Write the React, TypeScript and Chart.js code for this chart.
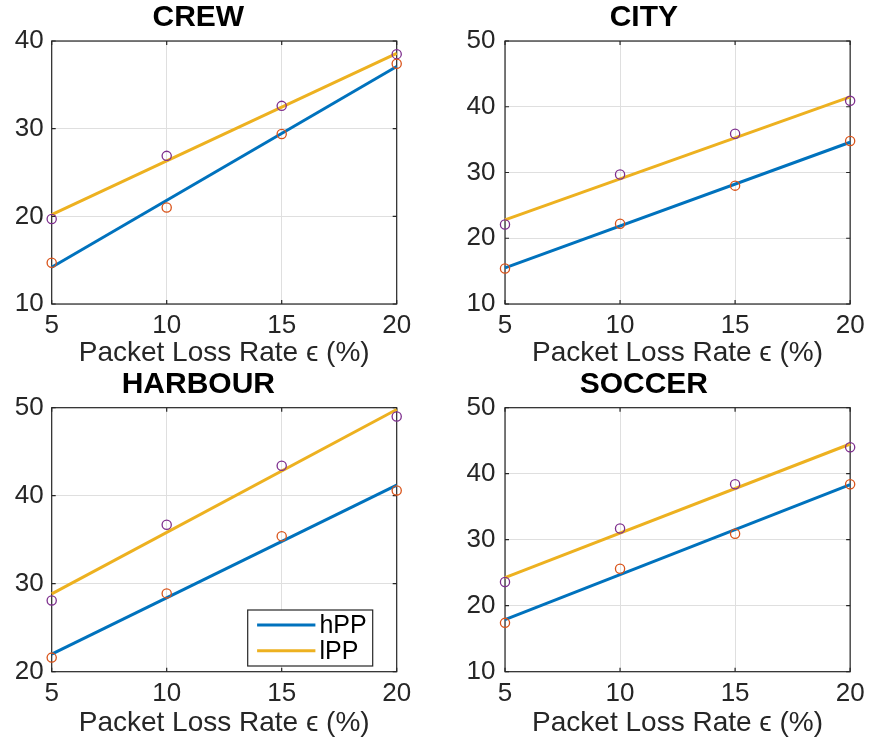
import { useEffect, useRef } from 'react';
import { Chart, registerables } from 'chart.js';

Chart.register(...registerables);

// Packet loss rates (%) at which each sequence was measured
const lossRates = [5, 10, 15, 20];
// x extent of the fitted trend lines
const fitRange = [5, 20];
const xTickStep = 5;
const yTickStep = 10;
const seriesNames = ['hPP', 'lPP'];

// CREW
const crewHpp = [14.7, 21.0, 29.4, 37.4];
const crewLpp = [19.7, 26.9, 32.6, 38.5];
const crewHppFit = [14.2, 37.1];
const crewLppFit = [20.2, 38.6];
const crewYRange = [10, 40];

// CITY
const cityHpp = [15.4, 22.2, 28.0, 34.8];
const cityLpp = [22.1, 29.7, 35.9, 40.9];
const cityHppFit = [15.5, 34.6];
const cityLppFit = [22.8, 41.5];
const cityYRange = [10, 50];

// HARBOUR
const harbourHpp = [21.6, 28.9, 35.4, 40.6];
const harbourLpp = [28.1, 36.7, 43.4, 49.0];
const harbourHppFit = [22.0, 41.2];
const harbourLppFit = [28.85, 49.8];
const harbourYRange = [20, 50];

// SOCCER
const soccerHpp = [17.4, 25.6, 30.9, 38.4];
const soccerLpp = [23.6, 31.7, 38.4, 44.0];
const soccerHppFit = [17.9, 38.35];
const soccerLppFit = [24.25, 44.5];
const soccerYRange = [10, 50];

const FONT = '"Liberation Sans", Arial, Helvetica, sans-serif';
const AXIS = '#262626';
const GRID = '#dfdfdf';
const BLUE = '#0072BD';
const YELLOW = '#EDB120';
const ORANGE = '#D95319';
const PURPLE = '#7E2F8E';
const TICK_LEN = 4;
const LINE_W = 3;

Chart.defaults.font.family = FONT;

// Box around the plot area with inward tick marks on all four sides
const framePlugin = {
  id: 'frame',
  beforeDatasetsDraw(chart: any) {
    const { ctx, chartArea: a, scales } = chart;
    const xs = scales.x;
    const ys = scales.y;
    ctx.save();
    ctx.strokeStyle = AXIS;
    ctx.lineWidth = 1.2;
    ctx.beginPath();
    for (const t of xs.ticks) {
      const px = xs.getPixelForValue(t.value);
      ctx.moveTo(px, a.bottom);
      ctx.lineTo(px, a.bottom - TICK_LEN);
      ctx.moveTo(px, a.top);
      ctx.lineTo(px, a.top + TICK_LEN);
    }
    for (const t of ys.ticks) {
      const py = ys.getPixelForValue(t.value);
      ctx.moveTo(a.left, py);
      ctx.lineTo(a.left + TICK_LEN, py);
      ctx.moveTo(a.right, py);
      ctx.lineTo(a.right - TICK_LEN, py);
    }
    ctx.stroke();
    ctx.strokeRect(a.left, a.top, a.right - a.left, a.bottom - a.top);
    ctx.restore();
  },
};

// Boxed legend in the lower-right corner of the plot area, built from the line datasets
const boxLegendPlugin = {
  id: 'boxLegend',
  afterDraw(chart: any, _args: any, opts: any) {
    if (!opts || !opts.display) return;
    const { ctx, chartArea: a } = chart;
    const entries = chart.data.datasets.filter((d: any) => d.showLine);
    const w = 125;
    const h = 56;
    const bx = a.right - 24 - w;
    const by = a.bottom - 5.7 - h;
    ctx.save();
    ctx.fillStyle = '#ffffff';
    ctx.fillRect(bx, by, w, h);
    ctx.strokeStyle = AXIS;
    ctx.lineWidth = 1.2;
    ctx.strokeRect(bx, by, w, h);
    ctx.font = `25px ${FONT}`;
    ctx.textBaseline = 'middle';
    ctx.textAlign = 'left';
    entries.forEach((d: any, i: number) => {
      const ry = by + 15 + i * 25.7;
      ctx.strokeStyle = d.borderColor;
      ctx.lineWidth = LINE_W;
      ctx.beginPath();
      ctx.moveTo(bx + 9.4, ry);
      ctx.lineTo(bx + 67.7, ry);
      ctx.stroke();
      ctx.fillStyle = '#000000';
      ctx.fillText(d.label, bx + 71.7, ry + 1);
    });
    ctx.restore();
  },
};

type PanelProps = {
  title: string;
  hpp: number[];
  lpp: number[];
  hppFit: number[];
  lppFit: number[];
  yRange: number[];
  left: number;
  top: number;
  width: number;
  height: number;
  yAxisWidth: number;
  rightPad: number;
  titlePad: [number, number];
  xAxisHeight: number;
  yTickPad: number;
  legend?: boolean;
};

function Panel(p: PanelProps) {
  const ref = useRef<HTMLCanvasElement>(null);

  useEffect(() => {
    if (!ref.current) return;
    const pts = (xs: number[], ys: number[]) => xs.map((x, i) => ({ x, y: ys[i] }));
    const marker = (color: string) => ({
      showLine: false,
      pointStyle: 'circle',
      pointRadius: 4.6,
      pointBorderWidth: 1.3,
      pointBorderColor: color,
      pointBackgroundColor: 'rgba(0,0,0,0)',
      borderColor: color,
      order: 0,
      clip: false,
    });
    const chart = new Chart(ref.current, {
      type: 'scatter',
      data: {
        datasets: [
          {
            label: seriesNames[0],
            data: pts(fitRange, p.hppFit),
            showLine: true,
            borderColor: BLUE,
            backgroundColor: BLUE,
            borderWidth: LINE_W,
            pointRadius: 0,
            order: 1,
            clip: false,
          },
          {
            label: seriesNames[1],
            data: pts(fitRange, p.lppFit),
            showLine: true,
            borderColor: YELLOW,
            backgroundColor: YELLOW,
            borderWidth: LINE_W,
            pointRadius: 0,
            order: 1,
            clip: false,
          },
          { label: seriesNames[0] + ' measured', data: pts(lossRates, p.hpp), ...marker(ORANGE) },
          { label: seriesNames[1] + ' measured', data: pts(lossRates, p.lpp), ...marker(PURPLE) },
        ] as any,
      },
      options: {
        animation: false,
        responsive: false,
        devicePixelRatio: 1,
        events: [],
        layout: { padding: { left: 0, right: p.rightPad, top: 0, bottom: 0 } },
        plugins: {
          legend: { display: false },
          tooltip: { enabled: false },
          title: {
            display: true,
            text: p.title,
            color: '#000000',
            font: { size: 30, weight: 'bold', lineHeight: 1, family: FONT },
            padding: { top: p.titlePad[0], bottom: p.titlePad[1] },
          },
          boxLegend: { display: !!p.legend },
        } as any,
        scales: {
          x: {
            type: 'linear',
            min: lossRates[0],
            max: lossRates[lossRates.length - 1],
            ticks: {
              stepSize: xTickStep,
              padding: 6.4,
              color: AXIS,
              font: { size: 26, family: FONT },
              maxRotation: 0,
              autoSkip: false,
            },
            grid: { color: GRID, lineWidth: 1, drawTicks: false },
            border: { display: false },
            title: {
              display: true,
              text: 'Packet Loss Rate ϵ (%)',
              color: AXIS,
              font: { size: 28, family: FONT },
              padding: { top: 0, bottom: 0 },
            },
            afterFit: (s: any) => {
              s.height = p.xAxisHeight;
            },
          },
          y: {
            type: 'linear',
            min: p.yRange[0],
            max: p.yRange[1],
            ticks: {
              stepSize: yTickStep,
              padding: p.yTickPad,
              color: AXIS,
              font: { size: 26, family: FONT },
            },
            grid: { color: GRID, lineWidth: 1, drawTicks: false },
            border: { display: false },
            afterFit: (s: any) => {
              s.width = p.yAxisWidth;
            },
          },
        },
      } as any,
      plugins: [framePlugin, boxLegendPlugin],
    });
    return () => chart.destroy();
  }, []);

  return (
    <canvas
      ref={ref}
      width={p.width}
      height={p.height}
      style={{ position: 'absolute', left: p.left, top: p.top, width: p.width, height: p.height }}
    />
  );
}

export default function App() {
  return (
    <div style={{ position: 'fixed', left: 0, top: 0, width: 871, height: 740, background: '#ffffff' }}>
      <Panel
        title="CREW"
        hpp={crewHpp}
        lpp={crewLpp}
        hppFit={crewHppFit}
        lppFit={crewLppFit}
        yRange={crewYRange}
        left={0}
        top={0}
        width={436}
        height={370}
        yAxisWidth={51.7}
        rightPad={39.3}
        titlePad={[3, 8]}
        xAxisHeight={66}
        yTickPad={8}
      />
      <Panel
        title="CITY"
        hpp={cityHpp}
        lpp={cityLpp}
        hppFit={cityHppFit}
        lppFit={cityLppFit}
        yRange={cityYRange}
        left={436}
        top={0}
        width={435}
        height={370}
        yAxisWidth={69}
        rightPad={19.3}
        titlePad={[3, 8]}
        xAxisHeight={66}
        yTickPad={9.5}
      />
      <Panel
        title="HARBOUR"
        hpp={harbourHpp}
        lpp={harbourLpp}
        hppFit={harbourHppFit}
        lppFit={harbourLppFit}
        yRange={harbourYRange}
        left={0}
        top={370}
        width={436}
        height={370}
        yAxisWidth={51.7}
        rightPad={39.3}
        titlePad={[0, 7.7]}
        xAxisHeight={68.3}
        yTickPad={8}
        legend
      />
      <Panel
        title="SOCCER"
        hpp={soccerHpp}
        lpp={soccerLpp}
        hppFit={soccerHppFit}
        lppFit={soccerLppFit}
        yRange={soccerYRange}
        left={436}
        top={370}
        width={435}
        height={370}
        yAxisWidth={69}
        rightPad={19.3}
        titlePad={[0, 7.7]}
        xAxisHeight={68.3}
        yTickPad={9.5}
      />
    </div>
  );
}
